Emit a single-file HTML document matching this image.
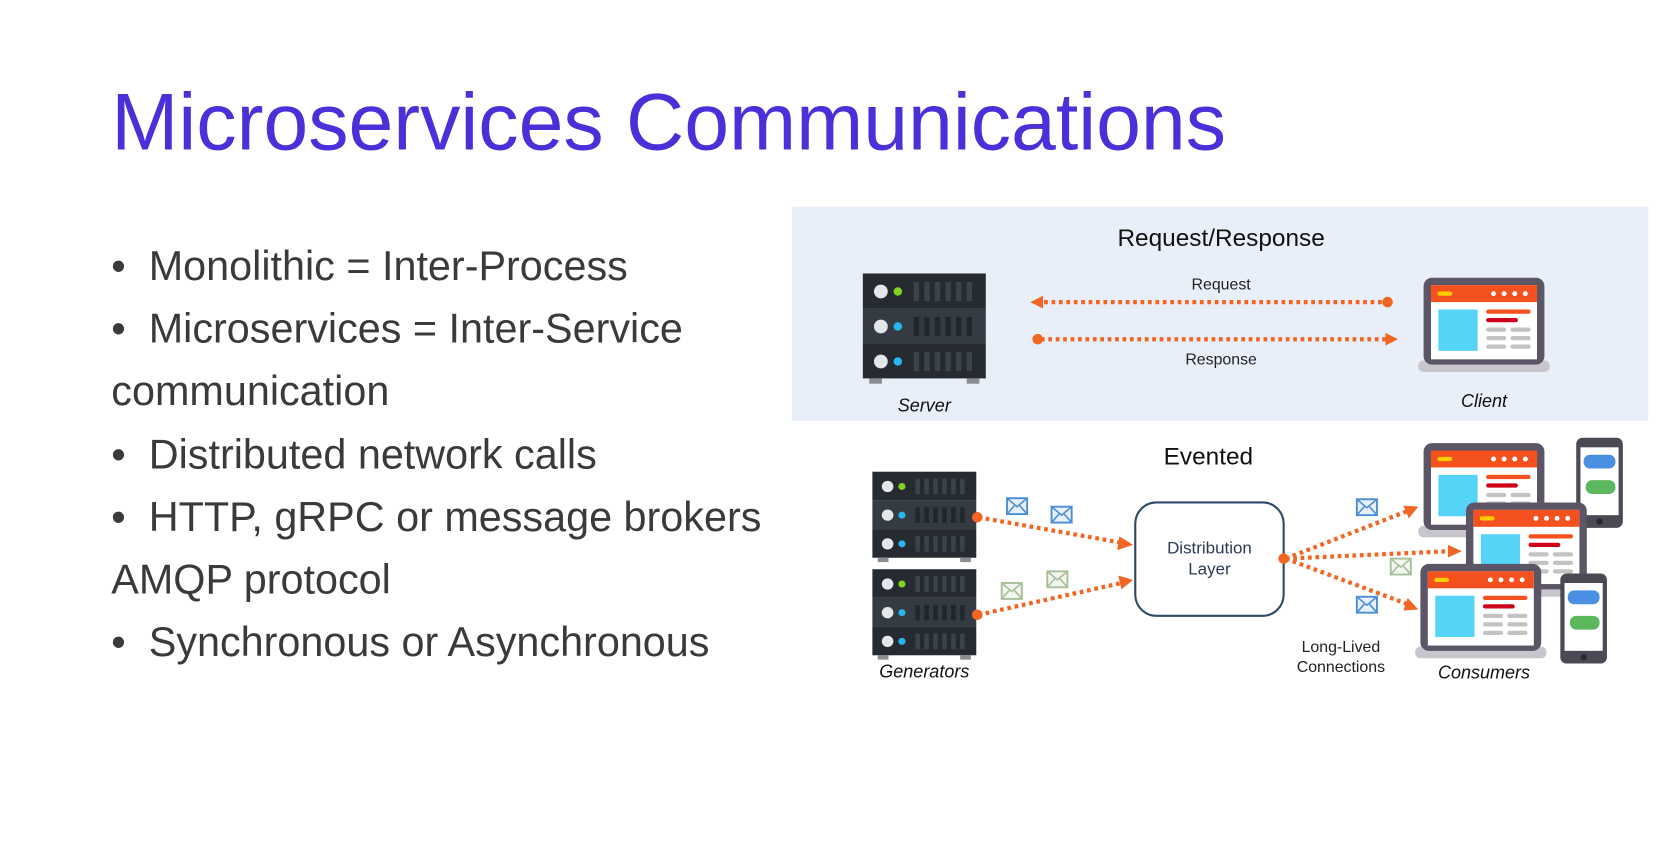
<!DOCTYPE html>
<html><head><meta charset="utf-8"><style>
html,body{margin:0;padding:0;background:#fff;}
body{width:1662px;height:841px;position:relative;overflow:hidden;font-family:"Liberation Sans",sans-serif;}
#w{position:absolute;left:0;top:0;width:1568px;height:794px;transform:scale(1.06);transform-origin:0 0;}
.t{position:absolute;left:105px;top:72px;font-size:76px;color:#4b2fd8;white-space:nowrap;}
.b{position:absolute;left:105px;font-size:39px;color:#3a3a3a;white-space:nowrap;line-height:44px;}
svg{position:absolute;left:0;top:0;}
</style></head><body><div id="w">
<div class="t">Microservices Communications</div>
<div class="b" style="top:230px">•&nbsp; Monolithic = Inter-Process</div>
<div class="b" style="top:289px">•&nbsp; Microservices = Inter-Service</div>
<div class="b" style="top:348px">communication</div>
<div class="b" style="top:408px">•&nbsp; Distributed network calls</div>
<div class="b" style="top:467px">•&nbsp; HTTP, gRPC or message brokers</div>
<div class="b" style="top:526px">AMQP protocol</div>
<div class="b" style="top:585px">•&nbsp; Synchronous or Asynchronous</div>
<svg width="1568" height="794" viewBox="0 0 1568 794" font-family="Liberation Sans, sans-serif">
<defs>
<g id="srv">
<rect x="0" y="0" width="116" height="33" fill="#262b31"/>
<rect x="0" y="33" width="116" height="33" fill="#353b42"/>
<rect x="0" y="66" width="116" height="33" fill="#262b31"/>
<rect x="6" y="99" width="12" height="5" fill="#8a8d92"/><rect x="98" y="99" width="12" height="5" fill="#8a8d92"/>
<circle cx="17" cy="17" r="6.5" fill="#e4e6ea"/><circle cx="33" cy="17" r="4" fill="#7ed321"/>
<circle cx="17" cy="50" r="6.5" fill="#e4e6ea"/><circle cx="33" cy="50" r="4" fill="#2ab5ef"/>
<circle cx="17" cy="83" r="6.5" fill="#e4e6ea"/><circle cx="33" cy="83" r="4" fill="#2ab5ef"/>
<g fill="#3d434b">
<rect x="48" y="8" width="5" height="18"/><rect x="58" y="8" width="5" height="18"/><rect x="68" y="8" width="5" height="18"/><rect x="78" y="8" width="5" height="18"/><rect x="88" y="8" width="5" height="18"/><rect x="98" y="8" width="5" height="18"/>
<rect x="48" y="74" width="5" height="18"/><rect x="58" y="74" width="5" height="18"/><rect x="68" y="74" width="5" height="18"/><rect x="78" y="74" width="5" height="18"/><rect x="88" y="74" width="5" height="18"/><rect x="98" y="74" width="5" height="18"/>
</g>
<g fill="#22272c">
<rect x="48" y="41" width="5" height="18"/><rect x="58" y="41" width="5" height="18"/><rect x="68" y="41" width="5" height="18"/><rect x="78" y="41" width="5" height="18"/><rect x="88" y="41" width="5" height="18"/><rect x="98" y="41" width="5" height="18"/>
</g>
</g>
<g id="lap">
<rect x="-5" y="78" width="124" height="11" rx="5" fill="#c6c6cc"/>
<rect x="0" y="0" width="114" height="82" rx="8" fill="#5b5566"/>
<rect x="7" y="7" width="100" height="70" fill="#fff"/>
<rect x="7" y="7" width="100" height="16" fill="#f4511e"/>
<rect x="13" y="13" width="14" height="4" rx="2" fill="#ffcc00"/>
<circle cx="66" cy="15" r="2.3" fill="#fff"/><circle cx="76" cy="15" r="2.3" fill="#fff"/><circle cx="86" cy="15" r="2.3" fill="#fff"/><circle cx="96" cy="15" r="2.3" fill="#fff"/>
<rect x="14" y="30" width="37" height="39" fill="#55d4f7"/>
<rect x="59" y="30" width="42" height="4" rx="2" fill="#f4511e"/>
<rect x="59" y="38" width="30" height="4" rx="2" fill="#d0021b"/>
<rect x="59" y="47" width="19" height="4" rx="2" fill="#c3c3c3"/><rect x="82" y="47" width="19" height="4" rx="2" fill="#c3c3c3"/>
<rect x="59" y="55" width="19" height="4" rx="2" fill="#c3c3c3"/><rect x="82" y="55" width="19" height="4" rx="2" fill="#c3c3c3"/>
<rect x="59" y="63" width="19" height="4" rx="2" fill="#c3c3c3"/><rect x="82" y="63" width="19" height="4" rx="2" fill="#c3c3c3"/>
</g>
<g id="ph">
<rect x="0" y="0" width="44" height="85" rx="6" fill="#4a4a55"/>
<rect x="4" y="9" width="36" height="64" fill="#fff"/>
<rect x="7" y="16" width="30" height="13" rx="6" fill="#4a90e2"/>
<rect x="9" y="40" width="28" height="13" rx="6" fill="#5cb85c"/>
<circle cx="22" cy="79" r="3" fill="#2a2a33"/>
</g>
<g id="envB"><rect x="0" y="0" width="19" height="15" fill="#e8f0fb" stroke="#4a8fd6" stroke-width="1.8"/><path d="M0 0 L9.5 8 L19 0 M0 15 L7 7 M19 15 L12 7" fill="none" stroke="#4a8fd6" stroke-width="1.5"/></g>
<g id="envG"><rect x="0" y="0" width="19" height="15" fill="#f3f6ee" stroke="#a7c09a" stroke-width="1.8"/><path d="M0 0 L9.5 8 L19 0 M0 15 L7 7 M19 15 L12 7" fill="none" stroke="#a7c09a" stroke-width="1.5"/></g>
</defs>
<rect x="747" y="195" width="808" height="202" fill="#e9eff9"/>
<text x="1152" y="232" font-size="23" text-anchor="middle" fill="#111">Request/Response</text>
<use href="#srv" x="814" y="258"/>
<text x="872" y="388" font-size="17" font-style="italic" text-anchor="middle" fill="#111">Server</text>
<use href="#lap" x="1343" y="262"/>
<text x="1400" y="384" font-size="17" font-style="italic" text-anchor="middle" fill="#111">Client</text>
<g stroke="#f26522" stroke-width="4" stroke-dasharray="3.5 3.5" fill="none">
<line x1="985" y1="285" x2="1305" y2="285"/>
<line x1="982" y1="320" x2="1308" y2="320"/>
</g>
<g fill="#f26522">
<circle cx="1309" cy="285" r="5"/><path d="M972 285 L984 279 L984 291Z"/>
<circle cx="979" cy="320" r="5"/><path d="M1319 320 L1307 314 L1307 326Z"/>
</g>
<text x="1152" y="273" font-size="15" text-anchor="middle" fill="#222">Request</text>
<text x="1152" y="344" font-size="15" text-anchor="middle" fill="#222">Response</text>

<text x="1140" y="438" font-size="23" text-anchor="middle" fill="#111">Evented</text>
<use href="#srv" transform="translate(823 445) scale(0.845 0.82)"/>
<use href="#srv" transform="translate(823 537) scale(0.845 0.82)"/>
<text x="872" y="639" font-size="17" font-style="italic" text-anchor="middle" fill="#111">Generators</text>
<rect x="1071" y="474" width="140" height="107" rx="20" fill="#fff" stroke="#2b4a68" stroke-width="2"/>
<text x="1141" y="522" font-size="16" text-anchor="middle" fill="#2b3a55">Distribution</text>
<text x="1141" y="542" font-size="16" text-anchor="middle" fill="#2b3a55">Layer</text>
<g stroke="#f26522" stroke-width="4" stroke-dasharray="3.5 3.5" fill="none">
<line x1="923" y1="488" x2="1058" y2="512"/>
<line x1="923" y1="580" x2="1058" y2="550"/>
<line x1="1213" y1="527" x2="1328" y2="482"/>
<line x1="1213" y1="527" x2="1368" y2="520"/>
<line x1="1213" y1="527" x2="1328" y2="570"/>
</g>
<g fill="#f26522">
<circle cx="922" cy="488" r="5"/><circle cx="922" cy="580" r="5"/><circle cx="1211" cy="527" r="5"/>
<path d="M1069 514 L1056 506 L1054 519Z"/>
<path d="M1069 547 L1055 543 L1058 556Z"/>
<path d="M1338 478 L1324 477 L1329 489Z"/>
<path d="M1379 520 L1366 514 L1366 526Z"/>
<path d="M1338 575 L1328 564 L1324 576Z"/>
</g>
<use href="#envB" x="950" y="470"/><use href="#envB" x="992" y="478"/>
<use href="#envG" x="945" y="550"/><use href="#envG" x="988" y="539"/>
<use href="#envB" x="1280" y="471"/><use href="#envG" x="1312" y="527"/><use href="#envB" x="1280" y="563"/>
<use href="#lap" x="1343" y="418"/>
<use href="#ph" x="1487" y="413"/>
<use href="#lap" x="1383" y="474"/>
<use href="#lap" x="1340" y="532"/>
<use href="#ph" x="1472" y="541"/>
<text x="1265" y="615" font-size="15" text-anchor="middle" fill="#222">Long-Lived</text>
<text x="1265" y="634" font-size="15" text-anchor="middle" fill="#222">Connections</text>
<text x="1400" y="640" font-size="17" font-style="italic" text-anchor="middle" fill="#111">Consumers</text>
</svg>
</div></body></html>
